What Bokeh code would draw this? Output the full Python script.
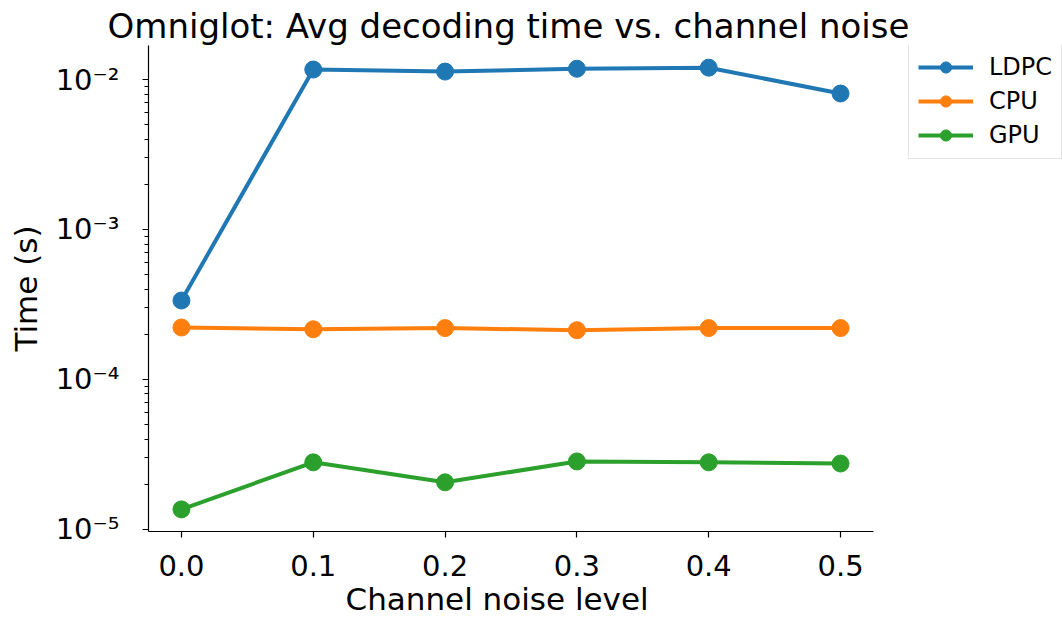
from bokeh.plotting import figure
from bokeh.models import FixedTicker, Legend, LegendItem, NumeralTickFormatter, Range1d, Title
from bokeh.embed import file_html
from bokeh.resources import INLINE

# ---- data ----
noise = [0.0, 0.1, 0.2, 0.3, 0.4, 0.5]
ldpc = [3.36e-4, 1.166e-2, 1.13e-2, 1.18e-2, 1.20e-2, 8.07e-3]
cpu = [2.22e-4, 2.16e-4, 2.20e-4, 2.13e-4, 2.20e-4, 2.20e-4]
gpu = [1.36e-5, 2.80e-5, 2.06e-5, 2.84e-5, 2.80e-5, 2.75e-5]
series_names = ["LDPC", "CPU", "GPU"]
series_colors = ["#1f77b4", "#ff7f0e", "#2ca02c"]
x_ticks = [0.0, 0.1, 0.2, 0.3, 0.4, 0.5]
y_ticks = [1e-5, 1e-4, 1e-3, 1e-2]
y_tick_labels = ["10\u207b\u2075", "10\u207b\u2074", "10\u207b\u00b3", "10\u207b\u00b2"]
y_minor = [m * 10.0 ** e for e in range(-6, -1) for m in range(2, 10)]

FONT = "DejaVu Sans"

# layout (pixels): axes box from x=148 to 873; the frame continues to the
# right edge so that the legend can sit beside the axes without clipping
W, H = 1062, 620
LEFT, AXIS_RIGHT, TOP, BOTTOM = 148, 873, 45, 531
x_lo, x_hi = -0.025, 0.525
x_end = x_lo + (x_hi - x_lo) * (W - LEFT) / (AXIS_RIGHT - LEFT)

p = figure(width=W, height=H, output_backend="svg", toolbar_location=None,
           y_axis_type="log",
           x_range=Range1d(x_lo, x_end), y_range=Range1d(10 ** -5.014, 10 ** -1.773),
           min_border_left=LEFT, min_border_right=0, min_border_top=TOP,
           min_border_bottom=H - BOTTOM,
           title="Omniglot: Avg decoding time vs. channel noise")
p.outline_line_color = None
p.xgrid.visible = False
p.ygrid.visible = False
p.background_fill_color = "white"
p.border_fill_color = "white"

p.title.text_font = FONT
p.title.text_font_size = "34px"
p.title.text_font_style = "normal"
p.title.align = "left"
p.title.offset = -41
p.title.standoff = 0
p.title.text_color = "black"

for ax in (p.xaxis[0], p.yaxis[0]):
    ax.axis_line_color = "black"
    ax.axis_line_width = 1.2
    ax.major_tick_line_color = "black"
    ax.major_tick_line_width = 1.2
    ax.minor_tick_line_color = "black"
    ax.minor_tick_line_width = 1
    ax.major_tick_in = 0
    ax.minor_tick_in = 0
    ax.major_label_text_font = FONT
    ax.major_label_text_font_size = "29px"
    ax.major_label_text_color = "black"
    ax.axis_label_text_font = FONT
    ax.axis_label_text_font_size = "31px"
    ax.axis_label_text_font_style = "normal"
    ax.axis_label_text_color = "black"

xa = p.xaxis[0]
xa.ticker = FixedTicker(ticks=x_ticks, minor_ticks=[])
xa.formatter = NumeralTickFormatter(format="0.0")
xa.bounds = (x_lo, x_hi)
xa.major_tick_out = 6
xa.major_label_standoff = 17

# x-axis label, placed under the axes box (not the wider frame)
xlabel = Title(text="Channel noise level", align="left", offset=197, standoff=0,
               text_font=FONT, text_font_size="31px", text_font_style="normal",
               text_color="black")
p.add_layout(xlabel, "below")

ya = p.yaxis[0]
ya.ticker = FixedTicker(ticks=y_ticks, minor_ticks=y_minor)
ya.major_label_overrides = {t: lab for t, lab in zip(y_ticks, y_tick_labels)}
ya.major_tick_out = 6
ya.minor_tick_out = 4
ya.major_label_standoff = 23
ya.axis_label = "Time (s)"
ya.axis_label_standoff = 9

items = []
for name, vals, col in zip(series_names, [ldpc, cpu, gpu], series_colors):
    ln = p.line(noise, vals, line_color=col, line_width=4, line_join="round")
    sc = p.scatter(noise, vals, size=17, fill_color=col, line_color=col)
    items.append(LegendItem(label=name, renderers=[ln, sc]))

legend_h = 2 * 9 + 3 * 28 + 2 * 6
legend = Legend(items=items, location=(908 - LEFT, (BOTTOM - TOP) - legend_h),
                margin=0, padding=9, spacing=6,
                glyph_width=55, glyph_height=28, label_height=28, label_standoff=16,
                label_text_font=FONT, label_text_font_size="24px", label_text_color="black",
                border_line_color="#cccccc", border_line_width=1,
                background_fill_color="white", background_fill_alpha=0.8)
p.add_layout(legend)

open("out.html", "w").write(file_html(p, INLINE))
